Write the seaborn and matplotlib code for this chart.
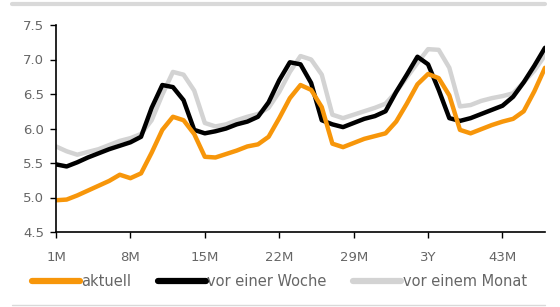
#!/usr/bin/env python3

import numpy as np
import pandas as pd
import seaborn as sns
import matplotlib.pyplot as plt
from matplotlib.lines import Line2D

sns.set_theme(style="white")
plt.rcParams['font.family'] = ['DejaVu Sans']

# Laufzeit in Monaten (1M .. 47M)
months = list(range(1, 48))

aktuell = [4.96, 4.97, 5.03, 5.10, 5.17, 5.24, 5.33, 5.28, 5.35, 5.65,
           5.98, 6.17, 6.12, 5.92, 5.59, 5.58, 5.63, 5.68, 5.74, 5.77,
           5.88, 6.15, 6.44, 6.63, 6.56, 6.31, 5.78, 5.73, 5.79, 5.85,
           5.89, 5.93, 6.10, 6.36, 6.64, 6.79, 6.73, 6.48, 5.98, 5.93,
           5.99, 6.05, 6.10, 6.14, 6.25, 6.54, 6.88]

vor_einer_woche = [5.48, 5.45, 5.51, 5.58, 5.64, 5.70, 5.75, 5.80, 5.88, 6.30,
                   6.63, 6.60, 6.41, 5.98, 5.93, 5.96, 6.00, 6.06, 6.10, 6.17,
                   6.38, 6.70, 6.96, 6.93, 6.66, 6.12, 6.06, 6.02, 6.08, 6.14,
                   6.18, 6.25, 6.53, 6.78, 7.04, 6.93, 6.56, 6.15, 6.11, 6.15,
                   6.21, 6.27, 6.33, 6.46, 6.67, 6.91, 7.17]

vor_einem_monat = [5.74, 5.67, 5.62, 5.66, 5.70, 5.76, 5.82, 5.86, 5.92, 6.12,
                   6.49, 6.82, 6.78, 6.55, 6.08, 6.03, 6.06, 6.12, 6.17, 6.21,
                   6.30, 6.53, 6.82, 7.05, 7.00, 6.78, 6.20, 6.15, 6.20, 6.25,
                   6.30, 6.36, 6.53, 6.74, 6.95, 7.15, 7.14, 6.88, 6.32, 6.34,
                   6.40, 6.44, 6.47, 6.51, 6.67, 6.84, 7.06]

series = ["aktuell", "vor einer Woche", "vor einem Monat"]
colors = ["#F7960A", "#000000", "#D3D3D3"]

tick_pos = [1, 8, 15, 22, 29, 36, 43]
tick_labels = ["1M", "8M", "15M", "22M", "29M", "3Y", "43M"]

df = pd.DataFrame({
    "month": months * 3,
    "value": aktuell + vor_einer_woche + vor_einem_monat,
    "series": np.repeat(series, len(months)),
})

fig = plt.figure(figsize=(5.6, 3.07), dpi=100)
ax = fig.add_axes([56 / 560, 1 - 232 / 307, (545 - 56) / 560, (232 - 25) / 307])

# draw grey first so black / orange sit on top
order = ["vor einem Monat", "vor einer Woche", "aktuell"]
sns.lineplot(data=df, x="month", y="value", hue="series", hue_order=order,
             palette=dict(zip(series, colors)), linewidth=3.2, sort=False,
             legend=False, ax=ax)
for ln in ax.lines:
    ln.set_solid_joinstyle("round")

ax.set_xlim(1, 47)
ax.set_ylim(4.5, 7.5)
ax.set_xticks(tick_pos)
ax.set_xticklabels(tick_labels)
ax.set_yticks(np.arange(4.5, 7.51, 0.5))
ax.set_yticklabels([f"{v:.1f}" for v in np.arange(4.5, 7.51, 0.5)])
ax.set_xlabel("")
ax.set_ylabel("")
sns.despine(ax=ax)
for s in ["left", "bottom"]:
    ax.spines[s].set_color("black")
    ax.spines[s].set_linewidth(1.2)
ax.tick_params(axis="both", direction="out", length=4.5, width=1, color="black",
               labelsize=9.5, labelcolor="#666666", bottom=True, left=True)
ax.tick_params(axis="x", pad=9)
ax.tick_params(axis="y", pad=4)

handles = [Line2D([], [], color=c, linewidth=4.5, solid_capstyle="round") for c in colors]
fig.legend(handles, series, loc="center left", bbox_to_anchor=(32 / 560, 1 - 282 / 307),
           ncol=3, frameon=False, fontsize=10.5, handlelength=3.3, handletextpad=0.1,
           columnspacing=1.8, borderpad=0, borderaxespad=0, labelcolor="#666666")

# rules at top and bottom of the panel
fig.add_artist(Line2D([12 / 560, 545 / 560], [1 - 4 / 307] * 2, color="#D9D9D9", linewidth=3))
fig.add_artist(Line2D([12 / 560, 545 / 560], [1 - 305 / 307] * 2, color="#D9D9D9", linewidth=1))

fig.savefig("out.png", dpi=100)
